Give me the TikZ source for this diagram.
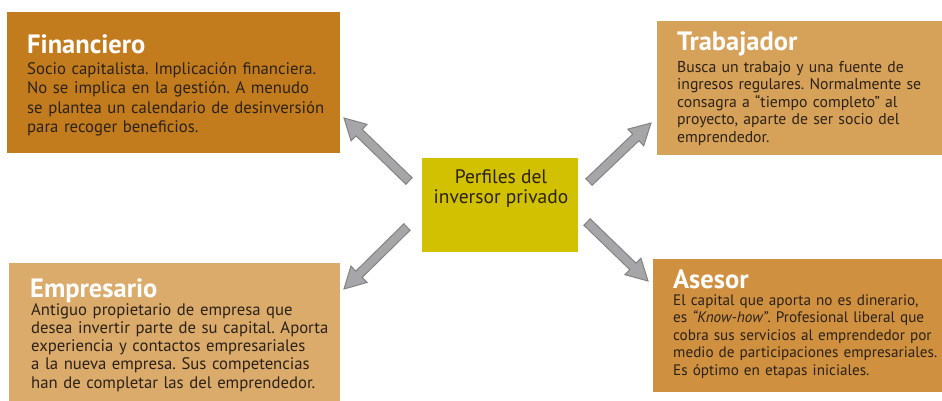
\documentclass[tikz,border=0pt]{standalone}
\usepackage{fontspec}
\setmainfont{PT Sans}
\usetikzlibrary{calc}
\frenchspacing
\definecolor{cfin}{HTML}{C27C1E}
\definecolor{ctra}{HTML}{D6A158}
\definecolor{cemp}{HTML}{DAAB6B}
\definecolor{case}{HTML}{CF9040}
\definecolor{ccen}{HTML}{D1C100}
\definecolor{bodytext}{HTML}{2B2118}
\definecolor{arrfill}{HTML}{A6A6A8}
\definecolor{arrdraw}{HTML}{838385}
\tikzset{
  box/.style={inner sep=0pt, draw=none, anchor=north west},
  ttl/.style={anchor=base west, inner sep=0pt, text=white, font=\bfseries\fontsize{26.5}{28}\selectfont},
  bodyA/.style={anchor=base west, inner sep=0pt, text=bodytext, align=left, text width=330pt, font=\frenchspacing\fontsize{16.7}{19.5}\selectfont},
  bodyB/.style={anchor=base west, inner sep=0pt, text=bodytext, align=left, text width=330pt, font=\frenchspacing\fontsize{15.7}{17.5}\selectfont},
  fat/.style={fill=arrfill, draw=arrdraw, line width=1pt, line join=miter}
}
\newcommand\fatarrow[3]{%
  \coordinate (#3n) at ($(#2)!21pt!(#1)$);
  \draw[fat] ($(#1)!4.5pt!90:(#2)$) -- ($(#3n)!4.5pt!-90:(#1)$) -- ($(#3n)!11.5pt!-90:(#1)$)
    -- (#2) -- ($(#3n)!11.5pt!90:(#1)$) -- ($(#3n)!4.5pt!90:(#1)$) -- ($(#1)!4.5pt!-90:(#2)$) -- cycle;
}
\begin{document}
\begin{tikzpicture}[x=1pt,y=-1pt]
\useasboundingbox (0,0) rectangle (942,400);
% boxes
\node[box, fill=cfin, minimum width=333pt, minimum height=141pt] (fin) at (7,12) {};
\node[box, fill=ctra, minimum width=285pt, minimum height=134pt] (tra) at (657,21) {};
\node[box, fill=cemp, minimum width=331pt, minimum height=138pt] (emp) at (9,263) {};
\node[box, fill=case, minimum width=289pt, minimum height=133pt] (ase) at (653,259) {};
\node[box, fill=ccen, minimum width=156pt, minimum height=94pt] (cen) at (422,158) {};
% texts
\node[ttl] (finT) at (27,53) {Financiero};
\node[bodyA] (finB) at (27,74) {Socio capitalista. Implicación financiera.\\No se implica en la gestión. A menudo\\se plantea un calendario de desinversión\\para recoger beneficios.};
\node[ttl] (traT) at (677,50) {Trabajador};
\node[bodyB] (traB) at (677,72) {Busca un trabajo y una fuente de\\ingresos regulares. Normalmente se\\consagra a “tiempo completo” al\\proyecto, aparte de ser socio del\\emprendedor.};
\node[ttl] (empT) at (30,297) {Empresario};
\node[bodyA, font=\frenchspacing\fontsize{16.7}{18.3}\selectfont] (empB) at (31,315) {Antiguo propietario de empresa que\\desea invertir parte de su capital. Aporta\\experiencia y contactos empresariales\\a la nueva empresa. Sus competencias\\han de completar las del emprendedor.};
\node[ttl] (aseT) at (673,288) {Asesor};
\node[bodyB, font=\frenchspacing\fontsize{15.2}{17.5}\selectfont] (aseB) at (673,305) {El capital que aporta no es dinerario,\\es \textit{“Know-how”}. Profesional liberal que\\cobra sus servicios al emprendedor por\\medio de participaciones empresariales.\\Es óptimo en etapas iniciales.};
\node[anchor=base, inner sep=0pt, text=bodytext, align=center, font=\fontsize{19.5}{20}\selectfont] (cenT) at (501,203) {Perfiles del\\inversor privado};
% arrows
\coordinate (a1t) at (409,181); \coordinate (a1h) at (344,118);
\coordinate (a2t) at (589,182); \coordinate (a2h) at (651,123);
\coordinate (a3t) at (407,227); \coordinate (a3h) at (344,289);
\coordinate (a4t) at (587,222); \coordinate (a4h) at (648,281);
\fatarrow{a1t}{a1h}{a1}
\fatarrow{a2t}{a2h}{a2}
\fatarrow{a3t}{a3h}{a3}
\fatarrow{a4t}{a4h}{a4}
\end{tikzpicture}
\end{document}
